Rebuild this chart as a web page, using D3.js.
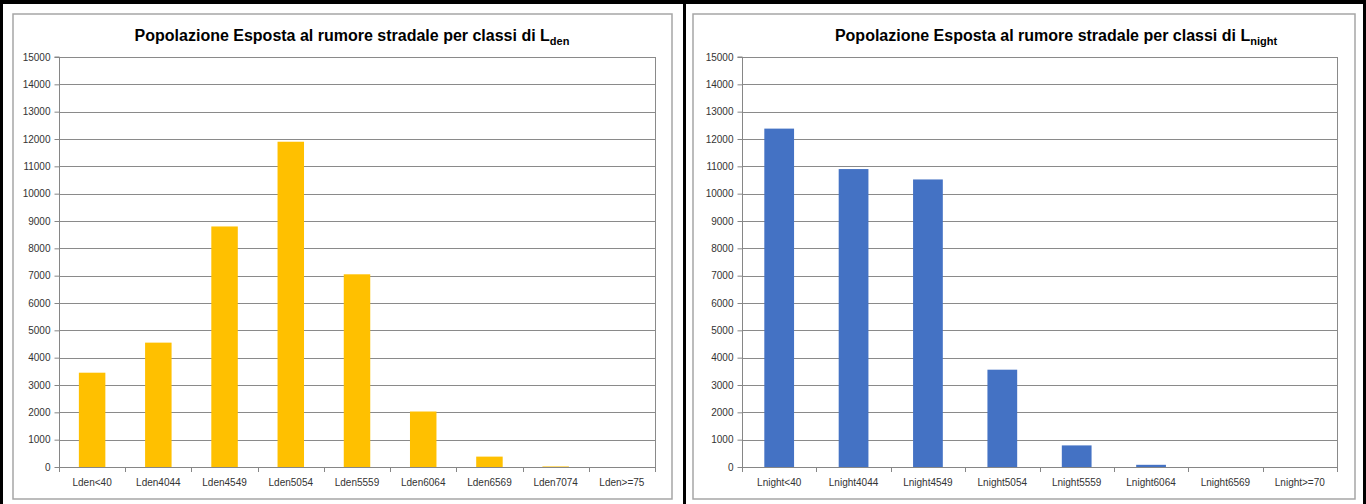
<!DOCTYPE html>
<html>
<head>
<meta charset="utf-8">
<script src="https://cdn.jsdelivr.net/npm/d3@7"></script>
<style>
  html, body { margin: 0; padding: 0; background: #fff; }
  svg { display: block; }
  text { font-family: "Liberation Sans", Arial, sans-serif; }
</style>
</head>
<body>
<svg id="chart" width="1366" height="504"></svg>
<script>
// Population exposed to road noise, by Lden class
const ldenCategories = ["Lden<40", "Lden4044", "Lden4549", "Lden5054", "Lden5559",
                        "Lden6064", "Lden6569", "Lden7074", "Lden>=75"];
const ldenValues = [3450, 4550, 8800, 11900, 7050, 2030, 380, 20, 0];

// Population exposed to road noise, by Lnight class
const lnightCategories = ["Lnight<40", "Lnight4044", "Lnight4549", "Lnight5054",
                          "Lnight5559", "Lnight6064", "Lnight6569", "Lnight>=70"];
const lnightValues = [12380, 10900, 10520, 3560, 790, 80, 0, 0];

// Shared value axis
const yTicks = d3.range(0, 15001, 1000);
const titleText = "Popolazione Esposta al rumore stradale per classi di L";

const svg = d3.select("#chart");

function drawPanel(cfg) {
  const g = svg.append("g");

  // chart area frame
  g.append("rect")
    .attr("x", cfg.frame[0]).attr("y", cfg.frame[1])
    .attr("width", cfg.frame[2]).attr("height", cfg.frame[3])
    .attr("fill", "#fff").attr("stroke", "#a6a6a6").attr("stroke-width", 1.5);

  const y = d3.scaleLinear().domain([0, 15000]).range([cfg.plot.bottom, cfg.plot.top]);
  const xBand = d3.scaleBand().domain(cfg.categories)
    .range([cfg.plot.left, cfg.plot.right]).paddingInner(0.6).paddingOuter(0.3);
  const xCat = d3.scaleBand().domain(cfg.categories)
    .range([cfg.plot.left, cfg.plot.right]).padding(0);

  // horizontal gridlines
  g.append("g").selectAll("line").data(yTicks.filter(d => d > 0)).join("line")
    .attr("x1", cfg.plot.left).attr("x2", cfg.plot.right)
    .attr("y1", d => Math.round(y(d)) + 0.5).attr("y2", d => Math.round(y(d)) + 0.5)
    .attr("stroke", "#8a8a8a").attr("stroke-width", 1);

  // right edge of plot area
  g.append("line")
    .attr("x1", cfg.plot.right + 0.5).attr("x2", cfg.plot.right + 0.5)
    .attr("y1", y(15000)).attr("y2", y(0))
    .attr("stroke", "#8a8a8a");

  // bars
  g.append("g").selectAll("rect").data(cfg.values).join("rect")
    .attr("x", (d, i) => xBand(cfg.categories[i]))
    .attr("width", xBand.bandwidth())
    .attr("y", d => y(d))
    .attr("height", d => y(0) - y(d))
    .attr("fill", cfg.color);

  // y axis
  const yAxis = d3.axisLeft(y).tickValues(yTicks).tickSize(5).tickPadding(4)
    .tickFormat(d3.format("d"));
  const ya = g.append("g").attr("transform", `translate(${cfg.plot.left + 0.5},0)`).call(yAxis);
  ya.select(".domain").attr("stroke", "#868686").attr("d", `M-5,${y(15000)}H0V${y(0)}`);
  ya.selectAll(".tick line").attr("stroke", "#868686");
  ya.selectAll(".tick text").attr("font-size", 10).attr("fill", "#333");

  // x axis baseline
  g.append("line")
    .attr("x1", cfg.plot.left).attr("x2", cfg.plot.right + 1)
    .attr("y1", y(0) + 0.5).attr("y2", y(0) + 0.5)
    .attr("stroke", "#868686");

  // category boundary ticks
  const bounds = cfg.categories.map(c => xCat(c)).concat([cfg.plot.right]);
  g.append("g").selectAll("line").data(bounds).join("line")
    .attr("x1", d => Math.round(d) + 0.5).attr("x2", d => Math.round(d) + 0.5)
    .attr("y1", y(0)).attr("y2", y(0) + 5)
    .attr("stroke", "#868686");

  // category labels
  const xAxis = d3.axisBottom(xCat).tickSize(0).tickPadding(12);
  const xa = g.append("g").attr("transform", `translate(0,${y(0)})`).call(xAxis);
  xa.select(".domain").remove();
  xa.selectAll(".tick text").attr("font-size", 10).attr("fill", "#333");

  // title with subscript
  const t = g.append("text")
    .attr("x", cfg.titleX).attr("y", 41)
    .attr("text-anchor", "middle")
    .attr("font-weight", "bold").attr("font-size", 16).attr("fill", "#000");
  t.append("tspan").text(titleText);
  t.append("tspan").attr("font-size", 11).attr("dy", 4).text(cfg.sub);
}

drawPanel({
  frame: [13, 14, 659, 485],
  plot: { left: 59, right: 655, top: 57, bottom: 467 },
  categories: ldenCategories,
  values: ldenValues,
  color: "#FFC000",
  sub: "den",
  titleX: 352
});

drawPanel({
  frame: [693, 14, 662, 485],
  plot: { left: 742, right: 1337, top: 57, bottom: 467 },
  categories: lnightCategories,
  values: lnightValues,
  color: "#4472C4",
  sub: "night",
  titleX: 1056
});

// outer black frame and divider
const frame = svg.append("g").attr("fill", "#000");
frame.append("rect").attr("x", 0).attr("y", 0).attr("width", 1366).attr("height", 4);
frame.append("rect").attr("x", 0).attr("y", 0).attr("width", 3).attr("height", 504);
frame.append("rect").attr("x", 683).attr("y", 0).attr("width", 3).attr("height", 504);
frame.append("rect").attr("x", 1363).attr("y", 0).attr("width", 3).attr("height", 504);
</script>
</body>
</html>
